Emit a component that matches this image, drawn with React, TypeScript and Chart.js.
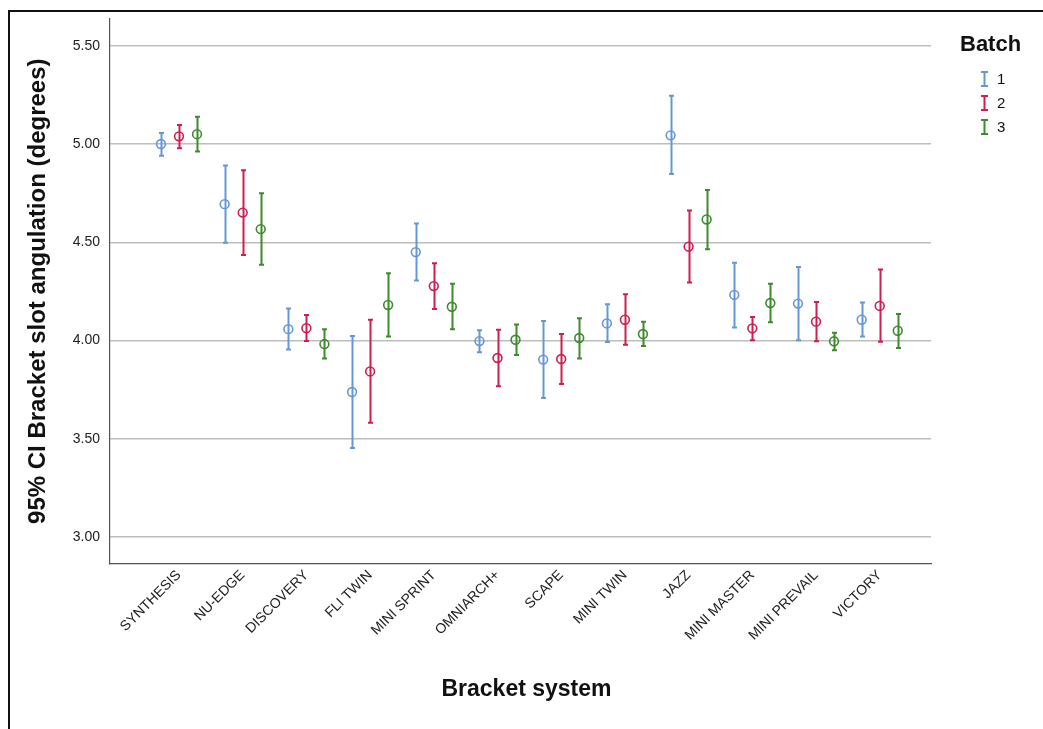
import React, { useEffect, useRef } from 'react';
import { Chart, registerables } from 'chart.js';

Chart.register(...registerables);

const CATEGORIES = ['SYNTHESIS', 'NU-EDGE', 'DISCOVERY', 'FLI TWIN', 'MINI SPRINT', 'OMNIARCH+', 'SCAPE', 'MINI TWIN', 'JAZZ', 'MINI MASTER', 'MINI PREVAIL', 'VICTORY'];
const BATCHES = ['1', '2', '3'];
const Y_TICKS = [3.0, 3.5, 4.0, 4.5, 5.0, 5.5];

const MEAN_1 = [5.0, 4.694, 4.058, 3.738, 4.45, 3.997, 3.903, 4.087, 5.044, 4.232, 4.188, 4.106];
const LOW_1 = [4.94, 4.498, 3.954, 3.453, 4.305, 3.94, 3.708, 3.992, 4.847, 4.066, 4.001, 4.02];
const HIGH_1 = [5.056, 4.891, 4.163, 4.023, 4.595, 4.052, 4.099, 4.184, 5.245, 4.396, 4.374, 4.193];

const MEAN_2 = [5.039, 4.651, 4.063, 3.843, 4.277, 3.911, 3.906, 4.106, 4.478, 4.062, 4.096, 4.176];
const LOW_2 = [4.978, 4.435, 3.997, 3.582, 4.16, 3.767, 3.779, 3.979, 4.295, 4.001, 3.996, 3.994];
const HIGH_2 = [5.096, 4.866, 4.13, 4.106, 4.393, 4.055, 4.033, 4.235, 4.661, 4.12, 4.196, 4.361];

const MEAN_3 = [5.05, 4.567, 3.982, 4.181, 4.172, 4.004, 4.013, 4.033, 4.616, 4.191, 3.996, 4.05];
const LOW_3 = [4.962, 4.386, 3.908, 4.021, 4.057, 3.926, 3.909, 3.972, 4.465, 4.093, 3.95, 3.962];
const HIGH_3 = [5.139, 4.749, 4.058, 4.342, 4.289, 4.082, 4.113, 4.096, 4.766, 4.289, 4.04, 4.135];

const SERIES = [
  { mean: MEAN_1, low: LOW_1, high: HIGH_1 },
  { mean: MEAN_2, low: LOW_2, high: HIGH_2 },
  { mean: MEAN_3, low: LOW_3, high: HIGH_3 },
];
const COLORS = ['#6497d8', '#cf1d4e', '#3f8a2f'];
const DODGE = [-0.283, 0, 0.283];
const FONT = '"Liberation Sans", Arial, Helvetica, sans-serif';

const W = 1043;
const H = 729;

const extrasPlugin = {
  id: 'extras',
  beforeDatasetsDraw(chart: any) {
    const { ctx } = chart;
    const x = chart.scales.x;
    const y = chart.scales.y;
    SERIES.forEach((s, si) => {
      ctx.save();
      ctx.strokeStyle = COLORS[si];
      ctx.lineWidth = 2;
      s.mean.forEach((_m, i) => {
        const px = Math.round(x.getPixelForValue(i + DODGE[si])) + 0.5;
        const top = y.getPixelForValue(s.high[i]);
        const bot = y.getPixelForValue(s.low[i]);
        ctx.beginPath();
        ctx.moveTo(px, top);
        ctx.lineTo(px, bot);
        ctx.moveTo(px - 2.5, top);
        ctx.lineTo(px + 2.5, top);
        ctx.moveTo(px - 2.5, bot);
        ctx.lineTo(px + 2.5, bot);
        ctx.stroke();
      });
      ctx.restore();
    });
  },
  afterDraw(chart: any) {
    const { ctx, chartArea } = chart;
    ctx.save();
    ctx.fillStyle = '#111';
    // x title
    ctx.font = `bold 23px ${FONT}`;
    ctx.textAlign = 'center';
    ctx.textBaseline = 'alphabetic';
    ctx.fillText('Bracket system', (chartArea.left + chartArea.right) / 2 + 6, 696);
    // y title
    ctx.save();
    ctx.font = `bold 24px ${FONT}`;
    ctx.translate(45, (chartArea.top + chartArea.bottom) / 2);
    ctx.rotate(-Math.PI / 2);
    ctx.fillText('95% CI Bracket slot angulation (degrees)', 0, 0);
    ctx.restore();
    // legend
    ctx.textAlign = 'left';
    ctx.font = `bold 22px ${FONT}`;
    ctx.fillText('Batch', 960, 51);
    ctx.font = `15px ${FONT}`;
    ctx.textBaseline = 'middle';
    BATCHES.forEach((b, i) => {
      const cy = 79 + i * 24;
      const gx = 984.5;
      ctx.strokeStyle = COLORS[i];
      ctx.lineWidth = 2;
      ctx.beginPath();
      ctx.moveTo(gx, cy - 7);
      ctx.lineTo(gx, cy + 7);
      ctx.moveTo(gx - 3.5, cy - 7);
      ctx.lineTo(gx + 3.5, cy - 7);
      ctx.moveTo(gx - 3.5, cy + 7);
      ctx.lineTo(gx + 3.5, cy + 7);
      ctx.stroke();
      ctx.fillStyle = '#111';
      ctx.fillText(b, 997, cy + 1);
    });
    // frame
    ctx.strokeStyle = '#111';
    ctx.lineWidth = 2;
    ctx.strokeRect(9, 11, W + 20, H + 20);
    ctx.restore();
  },
};

export default function App() {
  const canvasRef = useRef<HTMLCanvasElement | null>(null);

  useEffect(() => {
    document.body.style.margin = '0';
    const canvas = canvasRef.current;
    if (!canvas) return;
    const datasets = SERIES.map((s, si) => ({
      label: BATCHES[si],
      data: s.mean.map((m, i) => ({ x: i + DODGE[si], y: m })),
      borderColor: COLORS[si],
      backgroundColor: 'rgba(0,0,0,0)',
      pointRadius: 4.4,
      pointBorderWidth: 1.6,
      pointStyle: 'circle',
      showLine: false,
    }));
    const chart = new Chart(canvas, {
      type: 'scatter',
      data: { datasets },
      options: {
        animation: false,
        responsive: false,
        maintainAspectRatio: false,
        layout: { padding: { top: 18, right: 112, left: 0, bottom: 0 } },
        plugins: {
          legend: { display: false },
          tooltip: { enabled: false },
        },
        scales: {
          x: {
            type: 'linear',
            min: -1.083,
            max: 11.805,
            afterBuildTicks: (scale: any) => {
              scale.ticks = CATEGORIES.map((_c, i) => ({ value: i }));
            },
            afterFit: (scale: any) => {
              scale.height = 165;
            },
            grid: { display: false, drawTicks: false },
            border: { display: true, color: '#555', width: 1.2 },
            ticks: {
              autoSkip: false,
              minRotation: 45,
              maxRotation: 45,
              padding: 3,
              color: '#222',
              font: { family: FONT, size: 14 },
              callback: (v: any) => CATEGORIES[Math.round(Number(v))] ?? '',
            },
          },
          y: {
            type: 'linear',
            min: 2.863,
            max: 5.639,
            afterBuildTicks: (scale: any) => {
              scale.ticks = Y_TICKS.map((v) => ({ value: v }));
            },
            afterFit: (scale: any) => {
              scale.width = 110;
            },
            grid: { color: '#bdbdbd', lineWidth: 1.5, drawTicks: false },
            border: { display: true, color: '#555', width: 1.2 },
            ticks: {
              padding: 10,
              color: '#222',
              font: { family: FONT, size: 14 },
              callback: (v: any) => Number(v).toFixed(2),
            },
          },
        },
      },
      plugins: [extrasPlugin],
    } as any);
    return () => chart.destroy();
  }, []);

  return (
    <div style={{ position: 'fixed', left: 0, top: 0, width: W, height: H, background: '#fff' }}>
      <canvas ref={canvasRef} width={W} height={H} style={{ display: 'block', width: W, height: H }} />
    </div>
  );
}
